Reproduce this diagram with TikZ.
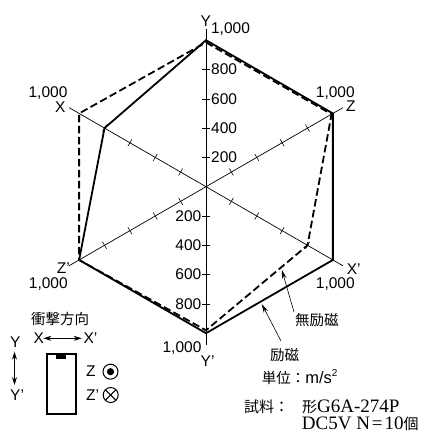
\documentclass[tikz,border=0pt]{standalone}
\usepackage{fontspec}
\setmainfont{Liberation Sans}
\newfontfamily\cjk{Noto Sans CJK JP}
\newfontfamily\serl{Liberation Serif}
\usetikzlibrary{calc,arrows.meta}
\begin{document}
\begin{tikzpicture}[x=1pt,y=-1pt,
  axis/.style={line width=0.7pt},
  tickmark/.style={line width=0.6pt},
  solidpoly/.style={line width=1.8pt, line join=miter},
  dashpoly/.style={line width=1.8pt, dash pattern=on 7.5pt off 3.5pt},
  lbl/.style={inner sep=0pt, font=\fontsize{15.5}{16}\selectfont},
  jl/.style={inner sep=0pt, font=\fontsize{14.5}{15}\selectfont\cjk},
  ptr/.style={line width=0.6pt, -{Stealth[length=9pt,width=4.5pt]}},
  dblarrow/.style={line width=0.7pt, {Stealth[length=8pt,width=5pt]}-{Stealth[length=8pt,width=5pt]}}]
\useasboundingbox (0,0) rectangle (429,436);
\fill[white] (0,0) rectangle (429,436);

\coordinate (O) at (206,186.7);
% axis ends
\foreach \n/\a in {Y/-90, Z/-30, Xp/30, Yp/90, Zp/150, X/210}
  \coordinate (e\n) at ($(O)+(\a:158)$);
% solid polygon points (excited)
\foreach \n/\a/\r in {Y/-90/146.5, Z/-30/146.5, Xp/30/146.5, Yp/90/146.5, Zp/150/146.5, X/210/117.2}
  \coordinate (s\n) at ($(O)+(\a:\r)$);
% dashed polygon points (non-excited)
\foreach \n/\a/\r in {Y/-90/144.3, Z/-30/145, Xp/30/117.2, Yp/90/143.6, Zp/150/146.5, X/210/146.5}
  \coordinate (d\n) at ($(O)+(\a:\r)$);

\draw[axis] (eY) -- (eYp);
\draw[axis] (eZ) -- (eZp);
\draw[axis] (eX) -- (eXp);

\foreach \a in {-90,-30,30,90,150,210}
  \foreach \d in {29.3,58.6,87.9,117.2}
    \draw[tickmark] ($(O)+(\a:\d)$) ++(\a+90:4) -- ++(\a-90:8);

\draw[solidpoly] (sY) -- (sZ) -- (sXp) -- (sYp) -- (sZp) -- (sX) -- cycle;
\draw[dashpoly] (dY) -- (dZ) -- (dXp) -- (dYp) -- (dZp) -- (dX) -- cycle;

% axis labels
\node[lbl, anchor=base west] (lY) at (200.5,26.7) {Y};
\node[lbl, anchor=base] (kY) at (230.5,34) {1,000};
\node[lbl, anchor=base west] (lX) at (55,112.7) {X};
\node[lbl, anchor=base] (kX) at (48,97.3) {1,000};
\node[lbl, anchor=base west] (lZ) at (346,111.7) {Z};
\node[lbl, anchor=base] (kZ) at (335.3,97.3) {1,000};
\node[lbl, anchor=base west] (lZp) at (56.7,273.3) {Z’};
\node[lbl, anchor=base] (kZp) at (48.3,288.3) {1,000};
\node[lbl, anchor=base west] (lXp) at (346.7,274) {X’};
\node[lbl, anchor=base] (kXp) at (335.3,288.3) {1,000};
\node[lbl, anchor=base west] (lYp) at (200.5,366.7) {Y’};
\node[lbl, anchor=base] (kYp) at (182,352) {1,000};

\foreach \v/\d in {200/29.3,400/58.6,600/87.9,800/117.2} {
  \node[lbl, anchor=west] (u\v) at (211,186.7-\d) {\v};
  \node[lbl, anchor=east] (w\v) at (201.5,186.7+\d) {\v};
}

% legend
\node[jl, anchor=base west] (dir) at (31,324) {衝撃方向};
\node[lbl, anchor=base west] (lgX) at (33.3,343) {X};
\node[lbl, anchor=base west] (lgXp) at (83.3,343) {X’};
\coordinate (ha) at (43.3,338.3);
\coordinate (hb) at (81.7,338.3);
\draw[dblarrow] (ha) -- (hb);
\node[lbl, anchor=base west] (lgY) at (10,347) {Y};
\node[lbl, anchor=base west] (lgYp) at (10,400) {Y’};
\coordinate (va) at (14.5,351.7);
\coordinate (vb) at (14.5,385);
\draw[dblarrow] (va) -- (vb);
\draw[line width=2pt] (47,354.3) rectangle (76.3,414);
\fill (56,354) rectangle (65.7,358.5);
\node[lbl, anchor=base west] (lgZ) at (86,376.7) {Z};
\node[lbl, anchor=base west] (lgZp) at (86,400) {Z’};
\coordinate (cz) at (110.5,371.7);
\coordinate (czp) at (110.7,395);
\draw[line width=1pt] (cz) circle[radius=7.5pt];
\fill (cz) circle[radius=3.6pt];
\draw[line width=1pt] (czp) circle[radius=7.5pt];
\draw[line width=1pt] ($(czp)+(45:7.5)$) -- ($(czp)+(225:7.5)$);
\draw[line width=1pt] ($(czp)+(135:7.5)$) -- ($(czp)+(-45:7.5)$);

% pointer labels
\node[jl, anchor=base west] (nm) at (295,325.7) {無励磁};
\node[jl, anchor=base west] (ex) at (270,360.7) {励磁};
\coordinate (nmt) at (294,312);
\coordinate (nmh) at ($(dXp)!0.26!(dYp)$);
\draw[ptr, shorten >=2.5pt] (nmt) -- (nmh);
\coordinate (ext) at (281,341);
\coordinate (exh) at ($(sXp)!0.57!(sYp)$);
\draw[ptr, shorten >=2.5pt] (ext) -- (exh);

% unit and sample
\node[jl, anchor=base west] (unit) at (261.7,383.8) {単位：{\rmfamily\fontsize{16.5}{17}\selectfont m/s\raisebox{0.42em}{\fontsize{10}{10}\selectfont 2}}};
\node[anchor=base west, inner sep=0pt, font=\fontsize{15}{15}\selectfont\cjk] (smp) at (244,412) {試料：};
\node[anchor=base west, inner sep=0pt] (mdl) at (302,412) {{\cjk\fontsize{15}{15}\selectfont 形}{\serl\fontsize{19}{19}\selectfont G6A-274P}};
\node[anchor=base west, inner sep=0pt] (cnt) at (301.7,429.3) {{\serl\fontsize{19}{19}\selectfont DC5V N\hspace{2pt}=\hspace{2pt}10}{\cjk\fontsize{15}{15}\selectfont 個}};
\end{tikzpicture}
\end{document}
